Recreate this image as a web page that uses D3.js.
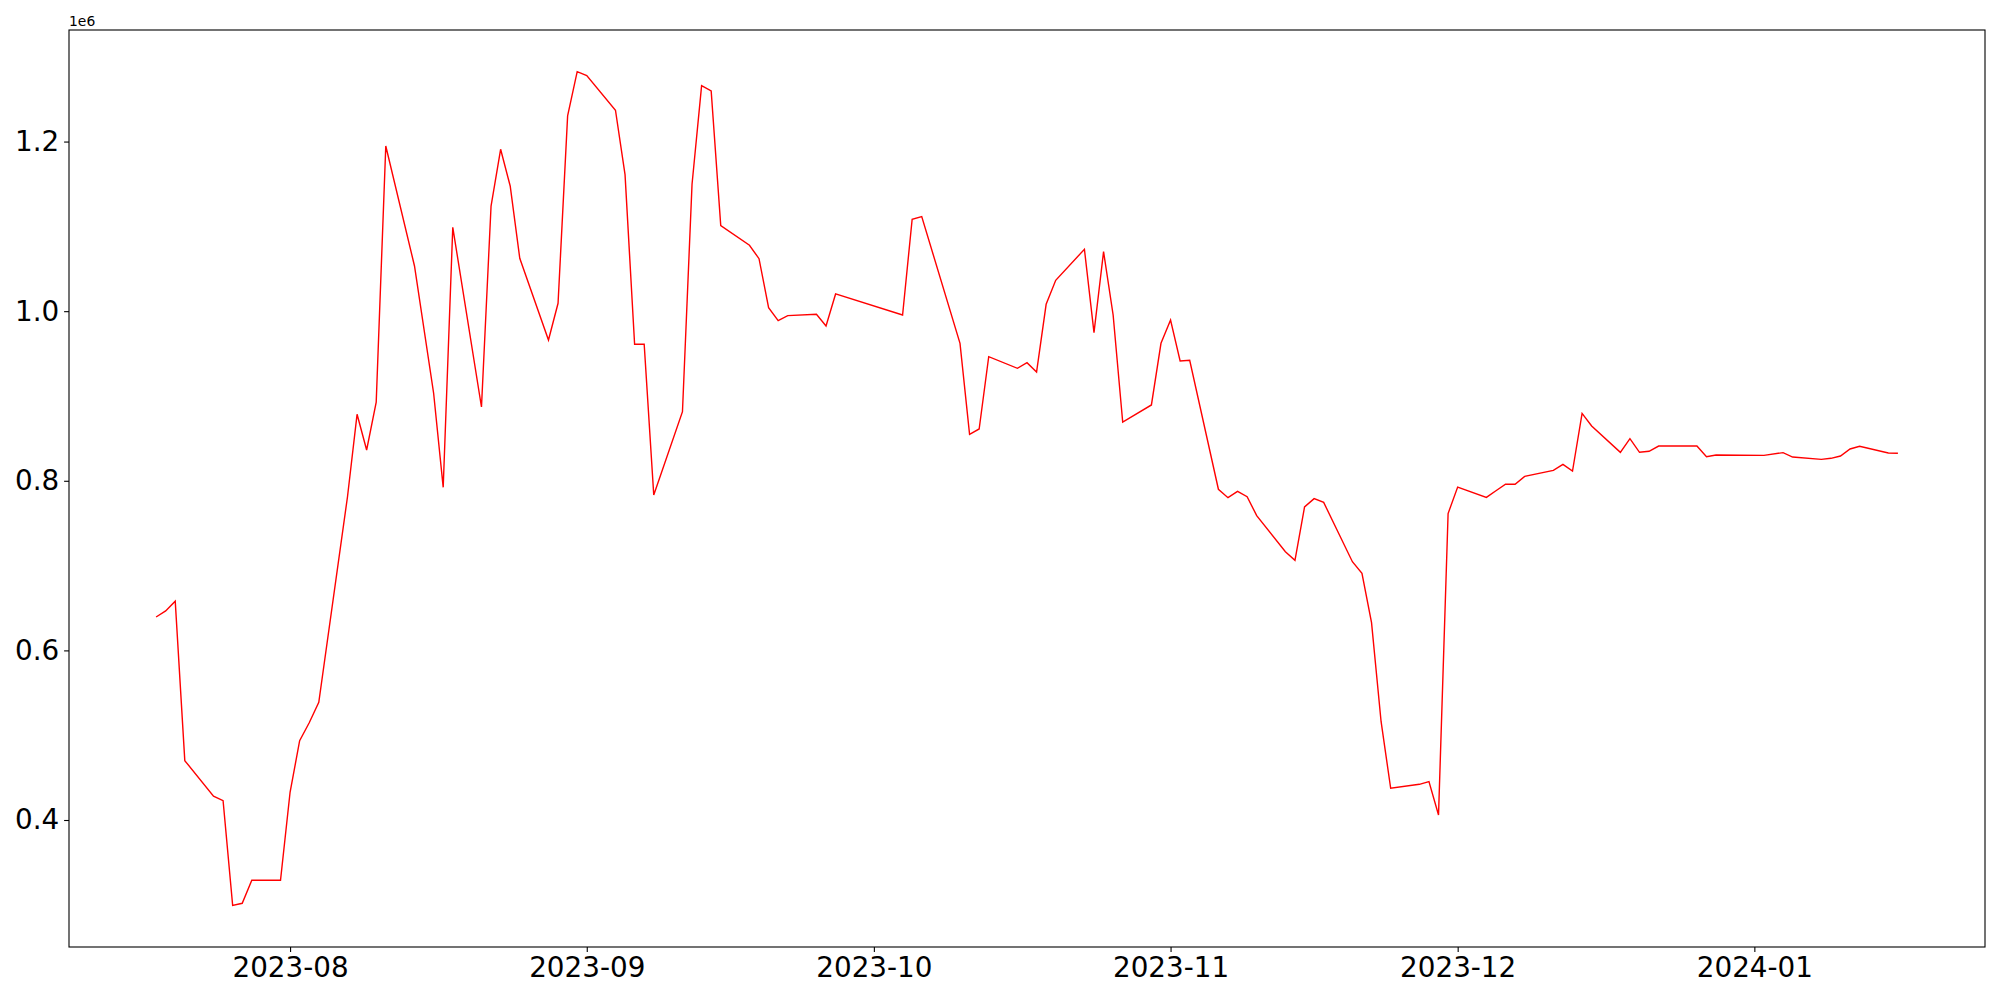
<!DOCTYPE html>
<html>
<head>
<meta charset="utf-8">
<script src="https://cdn.jsdelivr.net/npm/d3@7"></script>
<style>
  body { margin: 0; background: #fff; }
  .axis text { font-family: "DejaVu Sans", sans-serif; font-size: 27.8px; fill: #000; }
  .axis path, .axis line { stroke: #000; stroke-width: 1.1; }
</style>
</head>
<body>
<div id="chart"></div>
<script>
var width = 2000;
var height = 1000;
var margin = { top: 30, right: 15, bottom: 53, left: 69 };

// trading days (Korean market calendar) and values
var dates = [
  "2023-07-18","2023-07-19","2023-07-20","2023-07-21","2023-07-24","2023-07-25","2023-07-26","2023-07-27","2023-07-28","2023-07-31",
  "2023-08-01","2023-08-02","2023-08-03","2023-08-04","2023-08-07","2023-08-08","2023-08-09","2023-08-10","2023-08-11","2023-08-14",
  "2023-08-16","2023-08-17","2023-08-18","2023-08-21","2023-08-22","2023-08-23","2023-08-24","2023-08-25","2023-08-28","2023-08-29",
  "2023-08-30","2023-08-31","2023-09-01","2023-09-04","2023-09-05","2023-09-06","2023-09-07","2023-09-08","2023-09-11","2023-09-12",
  "2023-09-13","2023-09-14","2023-09-15","2023-09-18","2023-09-19","2023-09-20","2023-09-21","2023-09-22","2023-09-25","2023-09-26",
  "2023-09-27","2023-10-04","2023-10-05","2023-10-06","2023-10-10","2023-10-11","2023-10-12","2023-10-13","2023-10-16","2023-10-17",
  "2023-10-18","2023-10-19","2023-10-20","2023-10-23","2023-10-24","2023-10-25","2023-10-26","2023-10-27","2023-10-30","2023-10-31",
  "2023-11-01","2023-11-02","2023-11-03","2023-11-06","2023-11-07","2023-11-08","2023-11-09","2023-11-10","2023-11-13","2023-11-14",
  "2023-11-15","2023-11-16","2023-11-17","2023-11-20","2023-11-21","2023-11-22","2023-11-23","2023-11-24","2023-11-27","2023-11-28",
  "2023-11-29","2023-11-30","2023-12-01","2023-12-04","2023-12-05","2023-12-06","2023-12-07","2023-12-08","2023-12-11","2023-12-12",
  "2023-12-13","2023-12-14","2023-12-15","2023-12-18","2023-12-19","2023-12-20","2023-12-21","2023-12-22","2023-12-26","2023-12-27",
  "2023-12-28","2024-01-02","2024-01-04","2024-01-05","2024-01-08","2024-01-09","2024-01-10","2024-01-11","2024-01-12","2024-01-15",
  "2024-01-16"
];

var values = [
  639400, 646500, 658000, 470000, 428000, 422800, 299400, 301800, 329000, 329000,
  432700, 493500, 514700, 538800, 781200, 878400, 836300, 892600, 1194800, 1053300,
  903200, 792300, 1098900, 887000, 1124000, 1190900, 1147600, 1062400, 966000, 1009300,
  1230200, 1282400, 1277700, 1236900, 1161000, 961000, 961000, 783300, 881500, 1149600,
  1266000, 1259700, 1100900, 1077700, 1061900, 1004100, 988800, 994700, 996300, 982500,
  1020300, 995500, 1108400, 1111500, 962100, 854800, 861100, 946300, 932600, 939300,
  928300, 1008100, 1036400, 1073000, 974700, 1070200, 995500, 869300, 889400, 962100,
  989600, 941300, 942100, 790000, 780100, 787600, 781300, 758900, 716400, 706200,
  769100, 778900, 774500, 704600, 690900, 632700, 515900, 437400, 442100, 445200,
  405900, 761400, 792600, 780400, 788300, 795900, 795900, 805200, 812300, 819400,
  811400, 879400, 864700, 833500, 849700, 833600, 834800, 841000, 841000, 828400,
  830400, 830000, 833200, 828000, 825300, 826500, 829200, 837500, 840700, 832800,
  832400
];

var xTicks = ["2023-08-01","2023-09-01","2023-10-01","2023-11-01","2023-12-01","2024-01-01"];
var yTicks = [400000, 600000, 800000, 1000000, 1200000];

var parse = d3.utcParse("%Y-%m-%d");
var data = dates.map(function(d, i) { return { date: parse(d), value: values[i] }; });

var svg = d3.select("#chart")
  .append("svg")
  .attr("width", width)
  .attr("height", height);

// matplotlib-like 5% margins on both axes
var xExt = d3.extent(data, function(d) { return d.date; });
var xPad = (xExt[1] - xExt[0]) * 0.05;
var x = d3.scaleUtc()
  .domain([new Date(+xExt[0] - xPad), new Date(+xExt[1] + xPad)])
  .range([margin.left, width - margin.right]);

var yExt = d3.extent(values);
var yPad = (yExt[1] - yExt[0]) * 0.05;
var y = d3.scaleLinear()
  .domain([yExt[0] - yPad, yExt[1] + yPad])
  .range([height - margin.bottom, margin.top]);

var line = d3.line()
  .x(function(d) { return x(d.date); })
  .y(function(d) { return y(d.value); });

svg.append("path")
  .datum(data)
  .attr("fill", "none")
  .attr("stroke", "red")
  .attr("stroke-width", 1.4)
  .attr("stroke-linejoin", "miter")
  .attr("d", line);

var xAxis = d3.axisBottom(x)
  .tickValues(xTicks.map(parse))
  .tickFormat(d3.utcFormat("%Y-%m"))
  .tickSize(4.9)
  .tickPadding(4.9)
  .tickSizeOuter(0);

var yAxis = d3.axisLeft(y)
  .tickValues(yTicks)
  .tickFormat(function(d) { return (d / 1e6).toFixed(1); })
  .tickSize(4.9)
  .tickPadding(4.9)
  .tickSizeOuter(0);

svg.append("g")
  .attr("class", "x axis")
  .attr("transform", "translate(0," + (height - margin.bottom) + ")")
  .call(xAxis)
  .select(".domain").remove();

svg.append("g")
  .attr("class", "y axis")
  .attr("transform", "translate(" + margin.left + ",0)")
  .call(yAxis)
  .select(".domain").remove();

// axes frame
svg.append("rect")
  .attr("x", margin.left)
  .attr("y", margin.top)
  .attr("width", width - margin.left - margin.right)
  .attr("height", height - margin.top - margin.bottom)
  .attr("fill", "none")
  .attr("stroke", "#000")
  .attr("stroke-width", 1.1);

// scientific offset label
svg.append("text")
  .attr("x", margin.left)
  .attr("y", margin.top - 4)
  .style("font-family", "DejaVu Sans, sans-serif")
  .style("font-size", "13.9px")
  .text("1e6");
</script>
</body>
</html>
